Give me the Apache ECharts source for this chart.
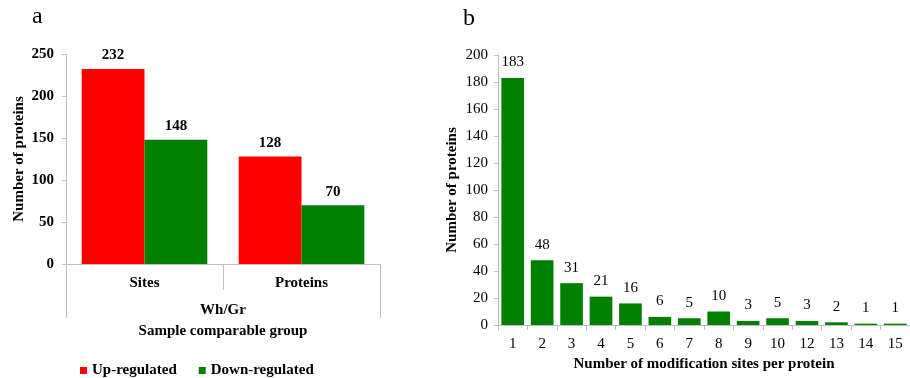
<!DOCTYPE html>
<html><head><meta charset="utf-8">
<script src="https://cdn.jsdelivr.net/npm/echarts@6/dist/echarts.min.js"></script>
<style>html,body{margin:0;padding:0;background:#fff}#c{width:910px;height:378px}</style>
</head><body><div id="c"></div>
<script>
// Panel a data
const groupsA = ['Sites', 'Proteins'];
const upRegulated = [232, 128];
const downRegulated = [148, 70];
const seriesNamesA = ['Up-regulated', 'Down-regulated'];
// Panel b data
const sitesPerProtein = ['1','2','3','4','5','6','7','8','9','10','12','13','14','15'];
const proteinCounts = [183, 48, 31, 21, 16, 6, 5, 10, 3, 5, 3, 2, 1, 1];

const FONT = 'Liberation Serif';
const axisGray = '#BFBFBF';
const chart = echarts.init(document.getElementById('c'));
chart.setOption({
  animation: false,
  backgroundColor: '#fff',
  textStyle: {fontFamily: FONT},
  title: [
    {text: 'a', left: 27, top: 0, textStyle: {fontFamily: FONT, fontSize: 24, fontWeight: 'normal', color: '#000'}},
    {text: 'b', left: 458, top: 2, textStyle: {fontFamily: FONT, fontSize: 24, fontWeight: 'normal', color: '#000'}}
  ],
  legend: {
    data: seriesNamesA, left: 75, top: 358, itemWidth: 7, itemHeight: 7, itemGap: 22, icon: 'rect',
    textStyle: {fontFamily: FONT, fontSize: 15, fontWeight: 'bold', color: '#000'}
  },
  grid: [
    {left: 66, top: 54, width: 314, height: 210},
    {left: 498, top: 55, width: 420, height: 270}
  ],
  xAxis: [
    {type: 'category', gridIndex: 0, data: groupsA,
     axisLine: {lineStyle: {color: axisGray}}, axisTick: {show: true, length: 26, lineStyle: {color: axisGray}},
     axisLabel: {fontFamily: FONT, fontSize: 15, fontWeight: 'bold', color: '#000', margin: 12}},
    {type: 'category', gridIndex: 0, data: ['Wh/Gr'], position: 'bottom',
     axisLine: {show: false}, axisTick: {show: true, length: 54, lineStyle: {color: axisGray}},
     axisLabel: {fontFamily: FONT, fontSize: 15, fontWeight: 'bold', color: '#000', margin: 39},
     name: 'Sample comparable group', nameLocation: 'middle', nameGap: 60,
     nameTextStyle: {fontFamily: FONT, fontSize: 15, fontWeight: 'bold', color: '#000'}},
    {type: 'category', gridIndex: 1, data: sitesPerProtein,
     axisLine: {lineStyle: {color: axisGray}}, axisTick: {show: true, length: 5, lineStyle: {color: axisGray}},
     axisLabel: {fontFamily: FONT, fontSize: 15, color: '#000', margin: 12},
     name: 'Number of modification sites per protein', nameLocation: 'middle', nameGap: 26,
     nameTextStyle: {fontFamily: FONT, fontSize: 15, fontWeight: 'bold', color: '#000'}}
  ],
  yAxis: [
    {type: 'value', gridIndex: 0, min: 0, max: 250, interval: 50,
     splitLine: {show: false}, axisLine: {show: true, lineStyle: {color: axisGray}},
     axisTick: {show: true, length: 4, lineStyle: {color: axisGray}},
     axisLabel: {fontFamily: FONT, fontSize: 15, fontWeight: 'bold', color: '#000', margin: 12},
     name: 'Number of proteins', nameLocation: 'middle', nameGap: 39,
     nameTextStyle: {fontFamily: FONT, fontSize: 15, fontWeight: 'bold', color: '#000'}},
    {type: 'value', gridIndex: 1, min: 0, max: 200, interval: 20,
     splitLine: {show: false}, axisLine: {show: true, lineStyle: {color: axisGray}},
     axisTick: {show: true, length: 4, lineStyle: {color: axisGray}},
     axisLabel: {fontFamily: FONT, fontSize: 15, color: '#000', margin: 10},
     name: 'Number of proteins', nameLocation: 'middle', nameGap: 38,
     nameTextStyle: {fontFamily: FONT, fontSize: 15, fontWeight: 'bold', color: '#000'}}
  ],
  series: [
    {name: seriesNamesA[0], type: 'bar', xAxisIndex: 0, yAxisIndex: 0, data: upRegulated,
     itemStyle: {color: '#FF0000'}, barGap: '0%', barCategoryGap: '20%',
     label: {show: true, position: 'top', distance: 6, fontFamily: FONT, fontSize: 15, fontWeight: 'bold', color: '#000'}},
    {name: seriesNamesA[1], type: 'bar', xAxisIndex: 0, yAxisIndex: 0, data: downRegulated,
     itemStyle: {color: '#008000'}, barGap: '0%', barCategoryGap: '20%',
     label: {show: true, position: 'top', distance: 6, fontFamily: FONT, fontSize: 15, fontWeight: 'bold', color: '#000'}},
    {name: 'count', type: 'bar', xAxisIndex: 2, yAxisIndex: 1, data: proteinCounts,
     itemStyle: {color: '#008000'}, barCategoryGap: '23%',
     label: {show: true, position: 'top', distance: 8, fontFamily: FONT, fontSize: 15, color: '#000'}}
  ]
});
</script></body></html>
